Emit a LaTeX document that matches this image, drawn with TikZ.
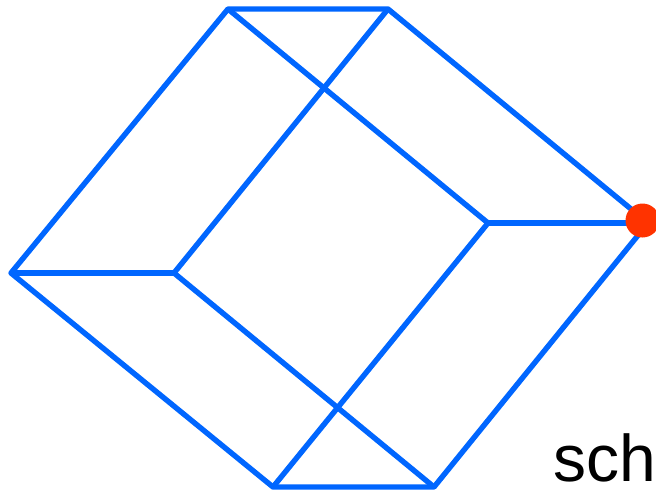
\documentclass[tikz,border=0pt]{standalone}
\usepackage{fontspec}
\setmainfont{Liberation Sans}
\definecolor{edgeblue}{RGB}{0,102,255}
\definecolor{dotred}{RGB}{255,51,0}
\tikzset{edge/.style={draw=edgeblue,line width=5.4pt}}
\begin{document}
\begin{tikzpicture}[x=1pt,y=-1pt]
        \useasboundingbox (0,0) rectangle (656,492);

        \coordinate (A) at (228,9);
        \coordinate (B) at (388,9);
        \coordinate (C) at (11,273);
        \coordinate (D) at (174,273);
        \coordinate (E) at (488,223);
        \coordinate (F) at (648,223);
        \coordinate (G) at (273,487);
        \coordinate (H) at (434,487);
        \coordinate (R) at (642.5,220.5);

        % outer outline
        \draw[edge,line join=round] (A) -- (B) -- (F) -- (H) -- (G) -- (C) -- cycle;
        % inner edges
        \draw[edge] (A) -- (E);
        \draw[edge] (B) -- (D);
        \draw[edge] (C) -- (D);
        \draw[edge] (D) -- (H);
        \draw[edge] (E) -- (G);
        \draw[edge] (E) -- (F);

        \fill[dotred] (R) circle (17);

        \node[anchor=base east,inner sep=0pt,font=\fontsize{66}{66}\selectfont] (label) at (656,481.5) {sch};
    \end{tikzpicture}
\end{document}
